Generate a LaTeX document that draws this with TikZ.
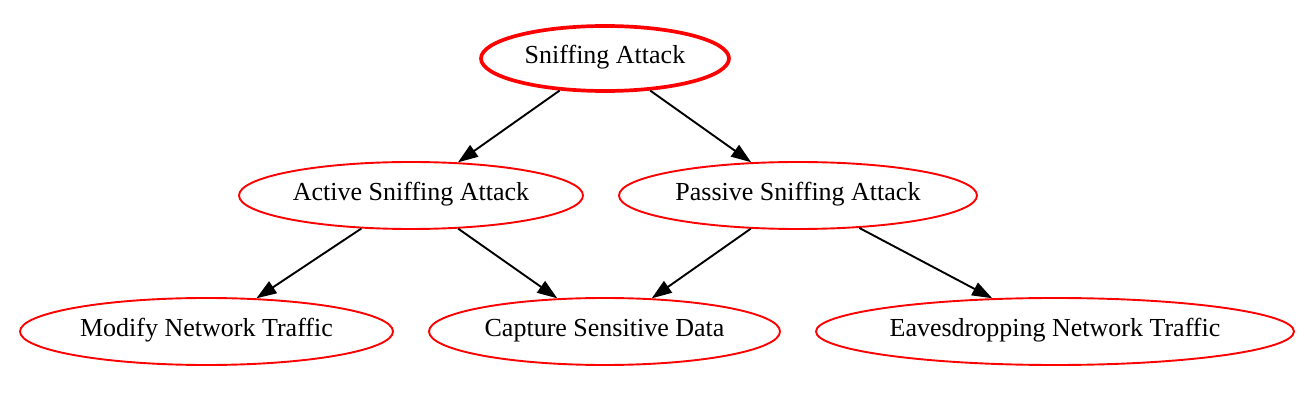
\documentclass[tikz,border=0pt]{standalone}
\usepackage{fontspec}
\setmainfont{Liberation Serif}
\usetikzlibrary{shapes.geometric,arrows.meta}
\begin{document}
\begin{tikzpicture}[x=1pt,y=1pt,
  gnode/.style={ellipse, draw=red, line width=1.9pt, inner sep=0pt,
    font=\fontsize{26}{30}\selectfont, text height=1.25em, text depth=0.22em},
  edge/.style={draw=black, line width=1.9pt,
    -{Triangle[length=20pt,width=14pt]}, shorten >=0pt}]
\useasboundingbox (0,0) rectangle (1309,-411);
\node[gnode, line width=3.7pt, minimum width=248pt, minimum height=65pt] (sniff) at (605,-58.5) {Sniffing Attack};
\node[gnode, minimum width=344pt, minimum height=67pt] (active) at (411,-195.5) {Active Sniffing Attack};
\node[gnode, minimum width=358pt, minimum height=67pt] (passive) at (798,-195.5) {Passive Sniffing Attack};
\node[gnode, minimum width=373pt, minimum height=67pt] (modify) at (206.5,-331.5) {Modify Network Traffic};
\node[gnode, minimum width=351pt, minimum height=67pt] (capture) at (604.5,-331.5) {Capture Sensitive Data};
\node[gnode, minimum width=478pt, minimum height=67pt] (eaves) at (1055,-331.5) {Eavesdropping Network Traffic};
\draw[edge] (sniff) -- (active);
\draw[edge] (sniff) -- (passive);
\draw[edge] (active) -- (modify);
\draw[edge] (active) -- (capture);
\draw[edge] (passive) -- (capture);
\draw[edge] (passive) -- (eaves);
\end{tikzpicture}
\end{document}
